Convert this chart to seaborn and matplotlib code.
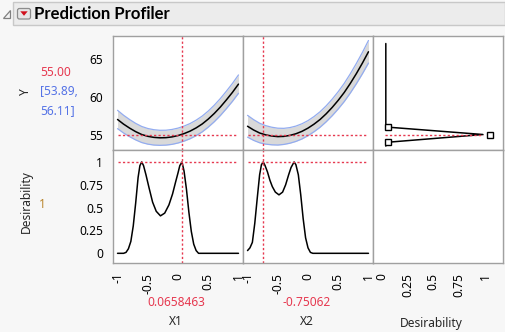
import matplotlib
matplotlib.use("Agg")
import matplotlib.pyplot as plt
import seaborn as sns
from matplotlib.patches import Rectangle, Polygon, FancyBboxPatch

# ---------------- data ----------------
x_grid = [-1.0, -0.9, -0.8, -0.7, -0.6, -0.5, -0.4, -0.3, -0.2, -0.1, 0.0,
          0.1, 0.2, 0.3, 0.4, 0.5, 0.6, 0.7, 0.8, 0.9, 1.0]
y_by_x1 = [57.0, 56.38, 55.85, 55.38, 55.0, 54.76, 54.62, 54.56, 54.58, 54.68, 54.86,
           55.12, 55.45, 55.88, 56.4, 57.05, 57.8, 58.65, 59.6, 60.6, 61.7]
hw_by_x1 = [1.22, 1.18, 1.14, 1.1, 1.07, 1.04, 1.02, 1.0, 0.99, 0.99, 0.99,
            1.0, 1.01, 1.03, 1.05, 1.07, 1.1, 1.13, 1.16, 1.19, 1.22]
y_by_x2 = [56.1, 55.6, 55.2, 54.95, 54.8, 54.72, 54.75, 54.88, 55.1, 55.42, 55.85,
           56.38, 57.0, 57.75, 58.6, 59.55, 60.6, 61.8, 63.1, 64.5, 66.0]
hw_by_x2 = [1.45, 1.38, 1.3, 1.23, 1.17, 1.12, 1.07, 1.04, 1.02, 1.01, 1.0,
            1.01, 1.03, 1.06, 1.1, 1.15, 1.21, 1.28, 1.35, 1.42, 1.5]

des_x1_pos = [-1.0, -0.9, -0.86, -0.82, -0.78, -0.74, -0.70, -0.66, -0.63, -0.60, -0.57,
              -0.53, -0.48, -0.42, -0.36, -0.29, -0.22, -0.15, -0.09, -0.04, 0.0, 0.03,
              0.066, 0.10, 0.14, 0.18, 0.22, 0.26, 0.30, 0.34, 1.0]
des_x1_val = [0.0, 0.0, 0.01, 0.05, 0.13, 0.3, 0.55, 0.83, 0.96, 1.0, 0.96,
              0.86, 0.72, 0.56, 0.46, 0.41, 0.44, 0.53, 0.65, 0.78, 0.88, 0.96,
              1.0, 0.9, 0.7, 0.45, 0.24, 0.1, 0.03, 0.0, 0.0]
des_x2_pos = [-1.0, -0.96, -0.92, -0.88, -0.84, -0.80, -0.77, -0.74, -0.71, -0.67, -0.63,
              -0.59, -0.54, -0.48, -0.42, -0.37, -0.32, -0.28, -0.23, -0.20, -0.16,
              -0.12, -0.08, -0.04, 0.0, 0.04, 0.08, 1.0]
des_x2_val = [0.03, 0.06, 0.12, 0.33, 0.6, 0.86, 0.97, 1.0, 0.96, 0.89, 0.8,
              0.73, 0.67, 0.64, 0.67, 0.75, 0.86, 0.94, 1.0, 0.97, 0.86,
              0.64, 0.38, 0.17, 0.06, 0.01, 0.0, 0.0]

dfun_d = [0.04, 0.04, 0.98, 0.04, 0.04]
dfun_y = [67.1, 56.0, 55.0, 53.95, 53.46]
handle_d = [0.06, 1.05, 0.06]
handle_y = [56.0, 55.0, 53.95]

current_x1 = 0.0658463
current_x2 = -0.75062
current_y = 55.00
ci_low, ci_high = 53.89, 56.11
current_des = 1

x_ticks = [-1, -0.5, 0, 0.5, 1]
x_tick_labels = ["-1", "-0.5", "0", "0.5", "1"]
x_minor = [-0.75, -0.25, 0.25, 0.75]
y_ticks = [55, 60, 65]
y_minor = [57.5, 62.5, 67.5]
d_ticks = [0, 0.25, 0.5, 0.75, 1]
d_tick_labels = ["0", "0.25", "0.5", "0.75", "1"]

# ---------------- style ----------------
sns.set_style("white")
plt.rcParams["font.family"] = ["Noto Sans", "DejaVu Sans"]

W, H = 505, 332
BG = "#f7f7f7"
SPINE = "#a0a0a0"
RED = "#e63950"
BLUE = "#5573e6"
FS = 8.6

fig = plt.figure(figsize=(W / 100, H / 100), dpi=100, facecolor=BG)

# background canvas in pixel coordinates
bg = fig.add_axes([0, 0, 1, 1], zorder=-5)
bg.set_xlim(0, W)
bg.set_ylim(H, 0)
bg.axis("off")
bg.add_patch(Rectangle((13, 1.5), W - 13, 23, facecolor="#ececec", edgecolor="#c8c8c8", lw=1))
bg.add_patch(Polygon([(10, 10), (10, 17.5), (2.5, 17.5)], closed=True,
                     facecolor="#f4f4f4", edgecolor="#808080", lw=0.9))
bg.add_patch(FancyBboxPatch((17.5, 8.5), 13, 10.5, boxstyle="round,pad=0,rounding_size=2",
                            facecolor="#e6e6e6", edgecolor="#8c8c8c", lw=0.9))
bg.add_patch(Polygon([(20.3, 11.3), (27.7, 11.3), (24, 15.8)], closed=True,
                     facecolor="#d0101c", edgecolor="none"))
bg.text(33.5, 13.8, "Prediction Profiler", fontsize=12, fontweight="bold",
        family=["Lato", "DejaVu Sans"], va="center", ha="left", color="black")


def ax_at(x0, y0, x1, y1):
    a = fig.add_axes([x0 / W, 1 - y1 / H, (x1 - x0) / W, (y1 - y0) / H])
    a.set_facecolor("white")
    for s in a.spines.values():
        s.set_color(SPINE)
        s.set_linewidth(1.0)
    a.tick_params(which="both", colors="#808080", labelcolor="black", labelsize=FS,
                  direction="out")
    a.tick_params(which="major", length=5, width=0.8, pad=2)
    a.tick_params(which="minor", length=3.5, width=0.8)
    a.set_xticks([])
    a.set_yticks([])
    return a


cols = [(113, 243), (243, 373), (373, 503)]
rows = [(36, 150), (150, 263)]
XLIM = (-1.075, 1.075)
DLIM = (-0.084, 1.174)
YLIM = (52.94, 68.1)
DYLIM = (-0.106, 1.131)
dot = (0, (1.6, 1.6))

# ---- top row: Y profiles ----
for ci, (xs_cur, yvals, hws) in enumerate([(current_x1, y_by_x1, hw_by_x1),
                                           (current_x2, y_by_x2, hw_by_x2)]):
    a = ax_at(cols[ci][0], rows[0][0], cols[ci][1], rows[0][1])
    lo = [v - h for v, h in zip(yvals, hws)]
    hi = [v + h for v, h in zip(yvals, hws)]
    a.fill_between(x_grid, lo, hi, color="#d9d9d9", lw=0)
    sns.lineplot(x=x_grid, y=lo, ax=a, color="#93acf0", lw=0.9, estimator=None, legend=False)
    sns.lineplot(x=x_grid, y=hi, ax=a, color="#93acf0", lw=0.9, estimator=None, legend=False)
    sns.lineplot(x=x_grid, y=yvals, ax=a, color="black", lw=1.1, estimator=None, legend=False)
    a.hlines(current_y, -1, 1, colors=RED, lw=1, linestyles=dot)
    a.axvline(xs_cur, color=RED, lw=1, ls=dot)
    a.set_xlim(*XLIM)
    a.set_ylim(*YLIM)
    a.set_xlabel("")
    a.set_ylabel("")
    if ci == 0:
        a.set_yticks(y_ticks)
        a.set_yticklabels([str(t) for t in y_ticks])
        a.set_yticks(y_minor, minor=True)

# ---- top right: desirability function ----
a = ax_at(cols[2][0], rows[0][0], cols[2][1], rows[0][1])
sns.lineplot(x=dfun_d, y=dfun_y, ax=a, color="black", lw=1.1, sort=False,
             estimator=None, legend=False)
a.hlines(current_y, 0.035, 0.98, colors=RED, lw=1, linestyles=dot)
a.plot(handle_d, handle_y, ls="none", marker="s", ms=4.2, mfc="white", mec="black", mew=1.0)
a.set_xlim(*DLIM)
a.set_ylim(*YLIM)
a.set_xlabel("")
a.set_ylabel("")

# ---- bottom row: desirability traces ----
for ci, (xs_cur, px, dv) in enumerate([(current_x1, des_x1_pos, des_x1_val),
                                        (current_x2, des_x2_pos, des_x2_val)]):
    a = ax_at(cols[ci][0], rows[1][0], cols[ci][1], rows[1][1])
    sns.lineplot(x=px, y=dv, ax=a, color="black", lw=1.1, estimator=None, legend=False)
    a.hlines(current_des, -1, 1, colors=RED, lw=1, linestyles=dot)
    a.axvline(xs_cur, color=RED, lw=1, ls=dot)
    a.set_xlim(*XLIM)
    a.set_ylim(*DYLIM)
    a.set_xlabel("")
    a.set_ylabel("")
    a.set_xticks(x_ticks)
    a.set_xticklabels(x_tick_labels, rotation=90)
    a.set_xticks(x_minor, minor=True)
    if ci == 0:
        a.set_yticks(d_ticks)
        a.set_yticklabels(d_tick_labels)

a = ax_at(cols[2][0], rows[1][0], cols[2][1], rows[1][1])
a.set_xlim(*DLIM)
a.set_ylim(*DYLIM)
a.set_xticks(d_ticks)
a.set_xticklabels(d_tick_labels, rotation=90)

# ---- text labels ----
def ptext(x, y, s, **kw):
    fig.text(x / W, 1 - y / H, s, fontsize=FS, **kw)

ptext(25, 92, "Y", rotation=90, ha="center", va="center")
ptext(40, 72.7, f"{current_y:.2f}", color=RED, ha="left", va="center")
ptext(40, 91.7, f"[{ci_low:.2f},", color=BLUE, ha="left", va="center")
ptext(40, 110.7, f"{ci_high:.2f}]", color=BLUE, ha="left", va="center")
ptext(26.5, 202, "Desirability", rotation=90, ha="center", va="center")
ptext(38.5, 205, str(current_des), color="#b8842a", ha="left", va="center")
ptext(176, 302.7, f"{current_x1}", color=RED, ha="center", va="center")
ptext(306.7, 302.7, f"{current_x2}", color=RED, ha="center", va="center")
ptext(176, 321.7, "X1", ha="center", va="center")
ptext(306.7, 321.7, "X2", ha="center", va="center")
ptext(431, 323, "Desirability", ha="center", va="center")

fig.savefig("out.png", dpi=100, facecolor=BG)
